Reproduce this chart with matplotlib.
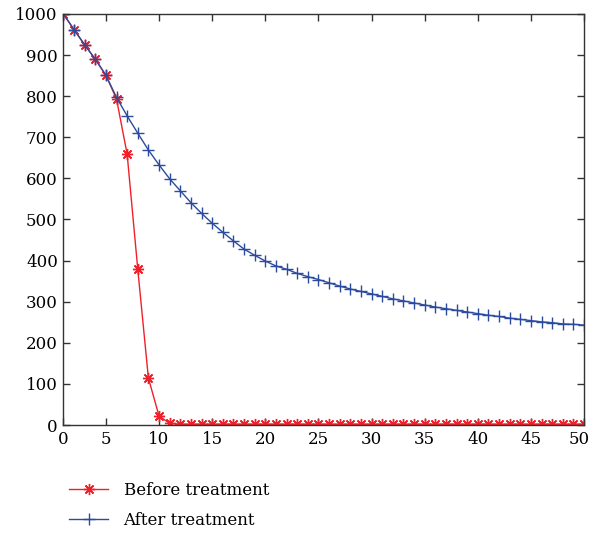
import matplotlib.pyplot as plt
from matplotlib.transforms import ScaledTranslation

# time steps 1..50 (first step is shown as "0" on the axis)
t = list(range(1, 51))

before = [1000, 962, 925, 890, 851, 793, 659, 379, 114, 22,
          4, 2, 2, 2, 2, 2, 2, 2, 2, 2,
          2, 2, 2, 2, 2, 2, 2, 2, 2, 2,
          2, 2, 2, 2, 2, 2, 2, 2, 2, 2,
          2, 2, 2, 2, 2, 2, 2, 2, 2, 2]

after = [1000, 962, 925, 890, 851, 797, 752, 710, 669, 633,
         599, 570, 541, 515, 491, 469, 448, 428, 413, 399,
         387, 379, 369, 361, 354, 346, 338, 331, 325, 319,
         313, 307, 302, 297, 292, 287, 283, 279, 275, 271,
         267, 264, 260, 257, 254, 251, 249, 246, 245, 243]

xtick_pos = [1, 5, 10, 15, 20, 25, 30, 35, 40, 45, 50]
xtick_lab = ['0', '5', '10', '15', '20', '25', '30', '35', '40', '45', '50']
ytick_pos = list(range(0, 1001, 100))

plt.rcParams['font.family'] = ['DejaVu Serif']
plt.rcParams['font.size'] = 12

fig = plt.figure(figsize=(5.92, 5.33), dpi=100)
ax = fig.add_axes([63.4 / 592, 1 - 425 / 533, (584 - 63.4) / 592, (425 - 14) / 533])

l1, = ax.plot(t, before, color='#f0202a', lw=1.0, marker=(8, 2, 0), ms=8, mew=1.0,
              label='Before treatment')
l2, = ax.plot(t, after, color='#2b4c9e', lw=1.0, marker='+', ms=9, mew=1.0,
              label='After treatment')

ax.set_xlim(1, 50)
ax.set_ylim(0, 1000)
ax.set_xticks(xtick_pos)
ax.set_xticklabels(xtick_lab)
ax.set_yticks(ytick_pos)
ax.tick_params(direction='in', top=True, right=True, length=5, width=1,
               color='#333333', pad=4)
for s in ax.spines.values():
    s.set_color('#333333')
    s.set_linewidth(1.0)

# keep the last x label inside the figure, as in the original
last = ax.get_xticklabels()[-1]
last.set_transform(last.get_transform() + ScaledTranslation(-5 / 100, 0, fig.dpi_scale_trans))

fig.legend(handles=[l1, l2], loc='upper left', bbox_to_anchor=(0.106, 0.109),
           frameon=False, handlelength=2.3, handletextpad=0.95, labelspacing=0.8,
           borderaxespad=0)

fig.savefig('out.png', dpi=100)
